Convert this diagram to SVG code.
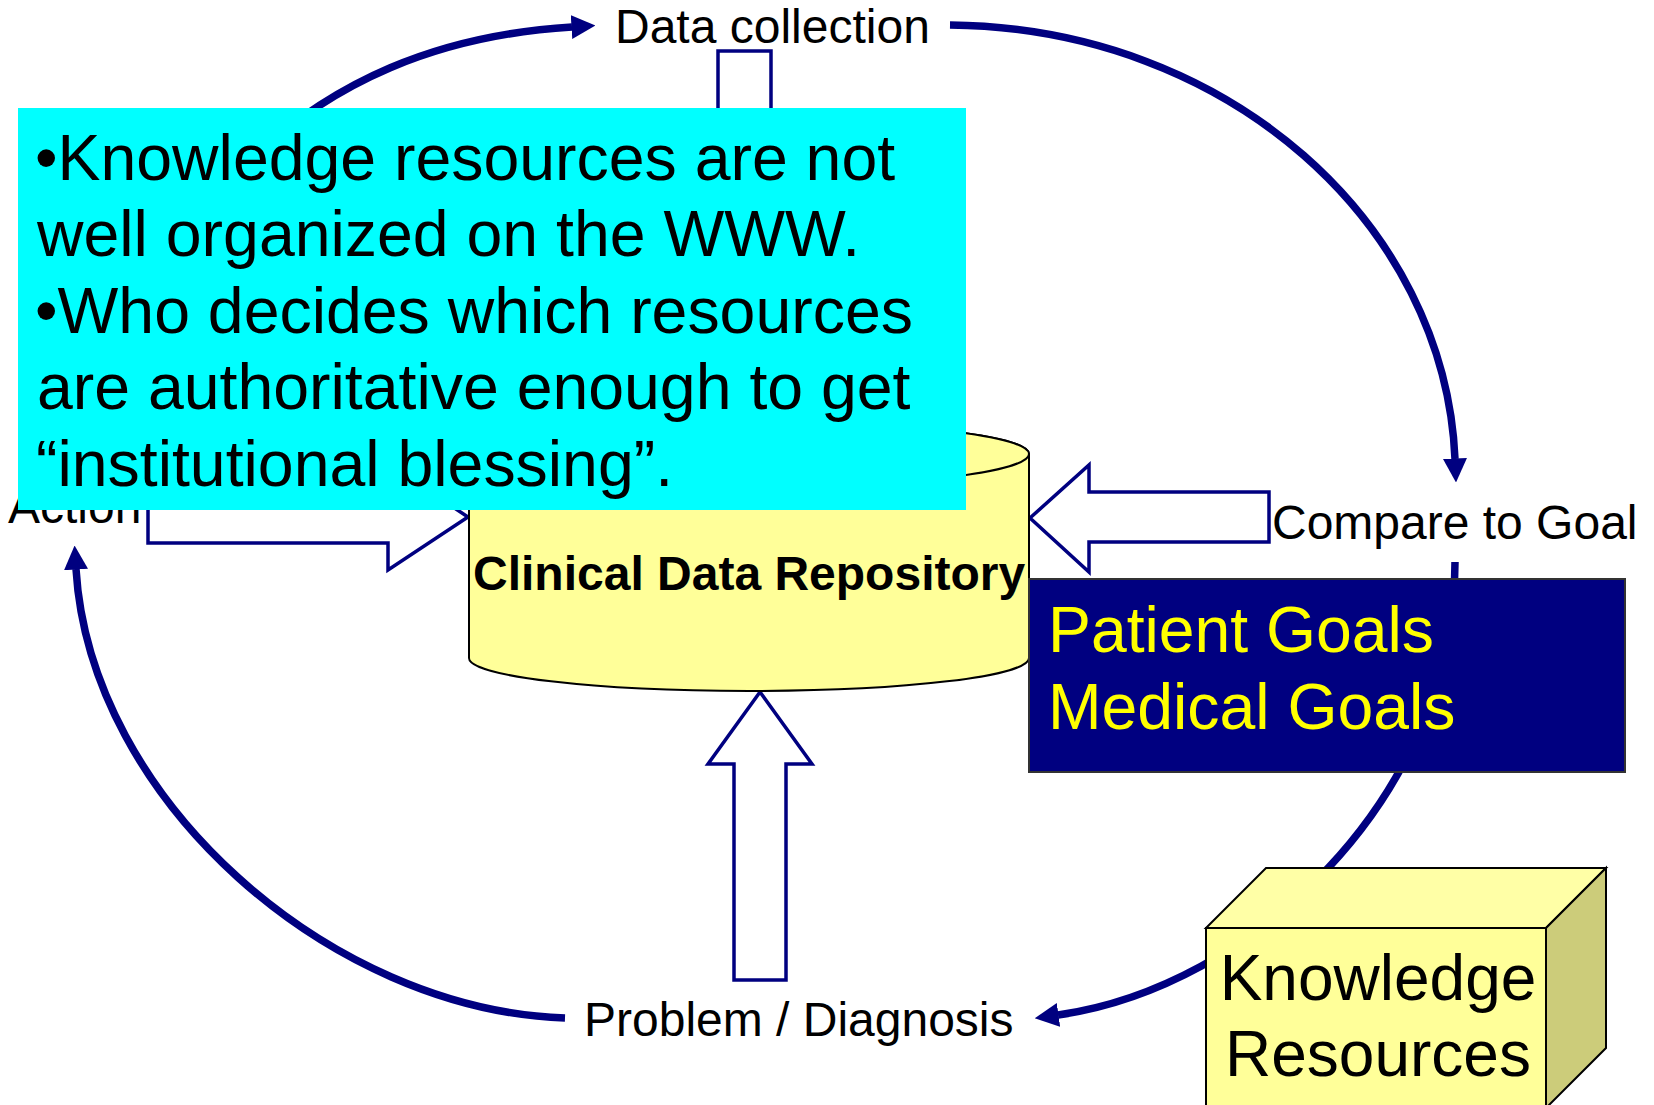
<svg xmlns="http://www.w3.org/2000/svg" width="1654" height="1105" viewBox="0 0 1654 1105">
<defs>
<style>
.lbl{font-family:"Liberation Sans",Arial,sans-serif;font-size:48px;fill:#000}
.arc{fill:none;stroke:#000080;stroke-width:7.5}
.hollow{fill:#fff;stroke:#000080;stroke-width:3.5;stroke-linejoin:miter}
.note{font-family:"Liberation Sans",Arial,sans-serif;font-size:64.4px;fill:#000}
.goal{font-family:"Liberation Sans",Arial,sans-serif;font-size:64.3px;fill:#FFFF00}
.kr{font-family:"Liberation Sans",Arial,sans-serif;font-size:64px;fill:#000;text-anchor:middle}
</style>
<marker id="ah" viewBox="0 0 24 24" refX="0.5" refY="12" markerWidth="24" markerHeight="24" markerUnits="userSpaceOnUse" orient="auto">
<path d="M0,0 L24,12 L0,24 z" fill="#000080"/>
</marker>
</defs>
<rect width="1654" height="1105" fill="#fff"/>

<g id="connectors">
<path class="arc" d="M 240 170 C 330 80, 440 35, 572 27" marker-end="url(#ah)"/>
<path class="arc" d="M 950 25 C 1230 28, 1445 225, 1455 459" marker-end="url(#ah)"/>
<path class="arc" d="M 1455 562 C 1455 800, 1250 988, 1058 1015" marker-end="url(#ah)"/>
<path class="arc" d="M 565 1018 C 330 1010, 90 800, 76 569" marker-end="url(#ah)"/>
<polygon class="hollow" points="718,51 771,51 771,340 797,340 745,421 693,340 718,340"/>
<polygon class="hollow" points="148,491 388,491 388,464 468,517 388,570 388,543 148,543"/>
<polygon class="hollow" points="1269,492 1089,492 1089,465 1030,518 1089,572 1089,542 1269,542"/>
<polygon class="hollow" points="734,980 734,764 708,764 760,692 812,764 786,764 786,980"/>
</g>

<g id="data-collection">
<text class="lbl" x="615" y="43">Data collection</text>
</g>

<g id="action">
<text class="lbl" x="8" y="523">Action</text>
</g>

<g id="compare-to-goal">
<text class="lbl" x="1272" y="539">Compare to Goal</text>
</g>

<g id="problem-diagnosis">
<text class="lbl" x="584" y="1036">Problem / Diagnosis</text>
</g>

<g id="clinical-data-repository">
<path d="M 469 454 A 280 33 0 0 1 1029 454 L 1029 658 A 280 33 0 0 1 469 658 Z" fill="#FFFF99" stroke="#000" stroke-width="2"/>
<ellipse cx="749" cy="454" rx="280" ry="33" fill="#FFFF99" stroke="#000" stroke-width="2"/>
<text x="473" y="590" font-family="Liberation Sans, Arial, sans-serif" font-size="48" font-weight="bold" fill="#000">Clinical Data Repository</text>
</g>

<g id="goals">
<rect x="1029" y="579" width="596" height="193" fill="#000080" stroke="#333" stroke-width="2"/>
<text class="goal" x="1048" y="652">Patient Goals</text>
<text class="goal" x="1048" y="729">Medical Goals</text>
</g>

<g id="knowledge-resources">
<polygon points="1206,928 1266,868 1606,868 1546,928" fill="#FFFFA6" stroke="#000" stroke-width="2"/>
<polygon points="1546,928 1606,868 1606,1048 1546,1108" fill="#CCCC7A" stroke="#000" stroke-width="2"/>
<rect x="1206" y="928" width="340" height="180" fill="#FFFF99" stroke="#000" stroke-width="2"/>
<text class="kr" x="1378" y="1000">Knowledge</text>
<text class="kr" x="1378" y="1076">Resources</text>
</g>

<g id="note">
<rect x="18" y="108" width="948" height="402" fill="#00FFFF"/>
<text class="note" x="35" y="180">•Knowledge resources are not</text>
<text class="note" x="37" y="256">well organized on the WWW.</text>
<text class="note" x="35" y="333">•Who decides which resources</text>
<text class="note" x="37" y="409">are authoritative enough to get</text>
<text class="note" x="36" y="486">“institutional blessing”.</text>
</g>
</svg>
